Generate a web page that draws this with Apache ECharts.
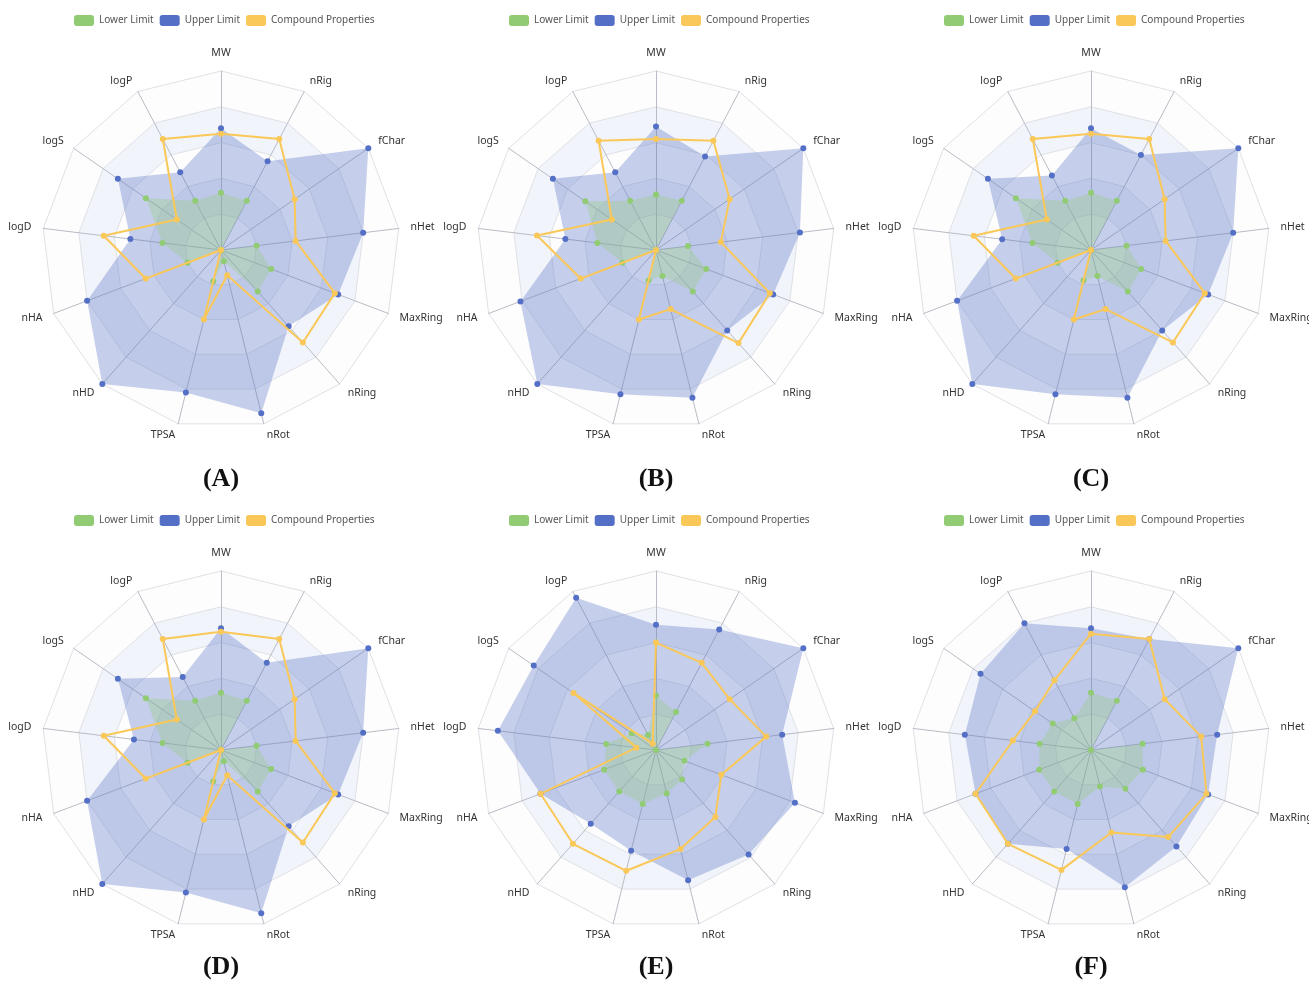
<!DOCTYPE html>
<html>
<head>
<meta charset="utf-8">
<script src="https://cdn.jsdelivr.net/npm/echarts@6/dist/echarts.min.js"></script>
<style>
  html, body { margin: 0; padding: 0; background: #fff; }
  #chart { width: 1309px; height: 982px; }
</style>
</head>
<body>
<div id="chart"></div>
<script>
// Descriptor axes, listed clockwise from the top
const descriptors = ['MW', 'nRig', 'fChar', 'nHet', 'MaxRing', 'nRing', 'nRot', 'TPSA', 'nHD', 'nHA', 'logD', 'logS', 'logP'];
const seriesNames = ['Lower Limit', 'Upper Limit', 'Compound Properties'];
const panelLabels = ['(A)', '(B)', '(C)', '(D)', '(E)', '(F)'];

// Scaled property values (0-100 of each axis), same clockwise order as descriptors
const lowerA = [32, 31, 0, 20, 30, 31, 6.5, 18, 0, 20, 33, 51, 31];
const upperA = [68, 56, 100, 80, 70, 57, 94, 82, 100, 80, 51, 70, 49];
const compA  = [65, 70, 50, 42, 68, 69, 14.5, 40, 0, 45, 66, 30, 70];

const lowerB = [31, 31, 0, 18, 30, 31, 15, 17.5, 0, 20, 33, 48, 31];
const upperB = [69, 59, 100, 81, 70, 60, 85, 83, 100, 81, 51, 70, 49];
const compB  = [62, 69, 50, 36.5, 68, 69.5, 34, 40, 0, 45, 67, 30, 69];

const lowerC = [32, 31, 0, 20, 30, 31, 15, 17.5, 0, 20, 33, 51, 31];
const upperC = [68, 60, 100, 80, 70, 60, 85, 83, 100, 80, 50, 70, 47];
const compC  = [65, 70, 50, 42, 68, 69, 34, 40, 0, 45, 66, 30, 70];

const lowerD = [32, 31, 0, 20, 30, 31, 6.5, 18, 0, 20, 33, 51, 31];
const upperD = [68, 55, 100, 80, 70, 57, 94, 82, 100, 80, 49, 70, 46];
const compD  = [66, 70, 50, 42, 68, 69, 14.5, 40, 0, 45, 66, 30, 70];

const lowerE = [30.5, 24, 0, 29, 17, 22, 25, 31, 31, 31, 28, 16.5, 9.5];
const upperE = [70, 76, 100, 71, 83, 78, 75, 58, 55, 69, 89, 83, 96];
const compE  = [60, 55, 50, 62, 39, 50, 57, 69.5, 70, 69, 11, 56, 4];

const lowerF = [32, 31, 0, 29, 31, 29, 21, 31, 31, 31, 29, 26, 20];
const upperF = [68, 70, 100, 71, 70, 72, 79, 57, 70, 69, 71, 75, 80];
const compF  = [65, 70, 50, 62, 69, 65, 47.5, 69, 70, 69, 44, 38, 44];

const panels = [
  [lowerA, upperA, compA],
  [lowerB, upperB, compB],
  [lowerC, upperC, compC],
  [lowerD, upperD, compD],
  [lowerE, upperE, compE],
  [lowerF, upperF, compF]
];

// ECharts lays radar indicators out counter-clockwise, so keep the first
// entry at the top and reverse the rest to read clockwise.
const ccw = arr => [arr[0]].concat(arr.slice(1).reverse());

const colors = { lower: '#91cc75', upper: '#5470c6', comp: '#fac858' };
const centersX = [221, 656, 1091];
const centersY = [250, 750];
const titleTops = [461, 949];
const R = 179;
const uiFont = '"Noto Sans", "DejaVu Sans", sans-serif';

const radars = [], series = [], legends = [], titles = [];
panels.forEach((vals, i) => {
  const row = Math.floor(i / 3);
  const cx = centersX[i % 3];
  const cy = centersY[row];
  radars.push({
    center: [cx, cy],
    radius: R,
    startAngle: 90,
    splitNumber: 5,
    nameGap: 12,
    indicator: ccw(descriptors).map(n => ({ name: n, min: 0, max: 100 })),
    axisName: { color: '#333', fontSize: 10.5, fontFamily: uiFont },
    axisLine: { lineStyle: { color: '#b9bcc4', width: 1 } },
    splitLine: { lineStyle: { color: '#dfe1e6', width: 1 } },
    splitArea: { show: true, areaStyle: { color: ['rgba(250,250,250,0.3)', 'rgba(210,219,238,0.3)'] } }
  });
  const [lo, up, cp] = vals;
  series.push({
    type: 'radar', radarIndex: i, name: seriesNames[1], z: 2,
    symbol: 'circle', symbolSize: 6,
    itemStyle: { color: colors.upper },
    lineStyle: { width: 0, color: colors.upper },
    areaStyle: { color: colors.upper, opacity: 0.33 },
    data: [{ name: seriesNames[1], value: ccw(up) }]
  });
  series.push({
    type: 'radar', radarIndex: i, name: seriesNames[0], z: 3,
    symbol: 'circle', symbolSize: 6,
    itemStyle: { color: colors.lower },
    lineStyle: { width: 0, color: colors.lower },
    areaStyle: { color: colors.lower, opacity: 0.3 },
    data: [{ name: seriesNames[0], value: ccw(lo) }]
  });
  series.push({
    type: 'radar', radarIndex: i, name: seriesNames[2], z: 4,
    symbol: 'circle', symbolSize: 6,
    itemStyle: { color: colors.comp },
    lineStyle: { width: 2, color: colors.comp },
    data: [{ name: seriesNames[2], value: ccw(cp) }]
  });
  legends.push({
    data: seriesNames,
    left: cx - 152,
    top: cy - 240,
    icon: 'roundRect',
    itemWidth: 20,
    itemHeight: 11,
    itemGap: 6,
    textStyle: { color: '#555', fontSize: 10, fontFamily: uiFont }
  });
  titles.push({
    text: panelLabels[i],
    left: cx - 5,
    top: titleTops[row],
    textAlign: 'center',
    textStyle: { fontFamily: '"Liberation Serif", "DejaVu Serif", serif', fontWeight: 'bold', fontSize: 26, color: '#111' }
  });
});

const chart = echarts.init(document.getElementById('chart'), null, { renderer: 'canvas' });
chart.setOption({
  backgroundColor: '#fff',
  animation: false,
  color: [colors.lower, colors.upper, colors.comp],
  title: titles,
  legend: legends,
  radar: radars,
  series: series
});
</script>
</body>
</html>
